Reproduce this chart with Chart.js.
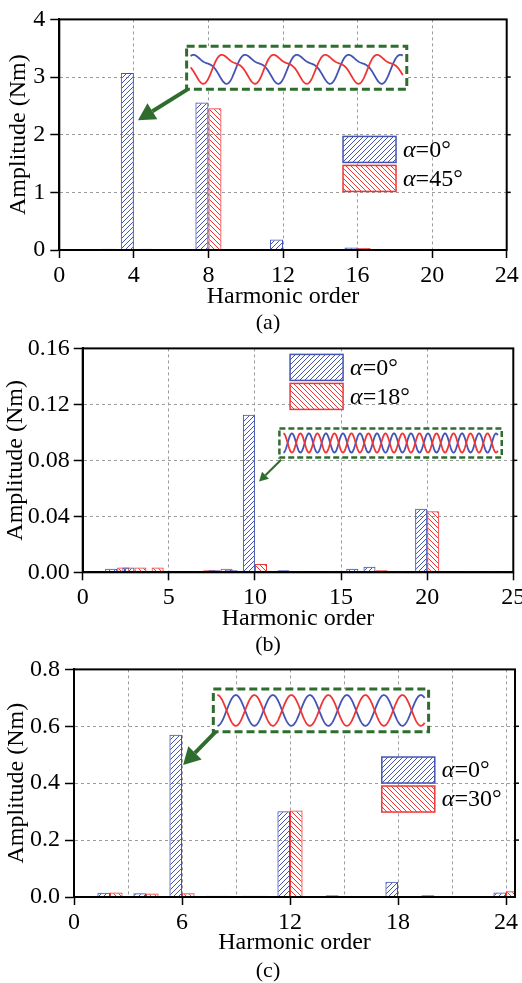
<!DOCTYPE html>
<html>
<head>
<meta charset="utf-8">
<script src="https://cdn.jsdelivr.net/npm/chart.js@4"></script>
<style>
  html, body { margin: 0; padding: 0; background: #fff; width: 522px; height: 983px; overflow: hidden; }
  canvas { position: absolute; left: 0; }
  .cap { position: absolute; font: 22px "Liberation Serif", serif; color: #000; transform: translate(-50%, -50%); white-space: nowrap; }
</style>
</head>
<body>
<canvas id="chartA" width="540" height="313" style="top:0px"></canvas>
<canvas id="chartB" width="540" height="305" style="top:330px"></canvas>
<canvas id="chartC" width="540" height="309" style="top:650px"></canvas>
<div class="cap" style="left:268px;top:322px">(a)</div>
<div class="cap" style="left:268px;top:644px">(b)</div>
<div class="cap" style="left:268px;top:970px">(c)</div>
<script>
// ---------------- data ----------------
// (a)
const harmonicsA = [1, 2, 3, 4, 5, 6, 7, 8, 9, 10, 11, 12, 13, 14, 15, 16, 17, 18, 19, 20, 21, 22, 23, 24];
const ampA0  = [0.005, 0.005, 0.02, 3.07, 0.02, 0.01, 0.005, 2.56, 0.005, 0.005, 0.01, 0.18, 0.005, 0.005, 0.005, 0.045, 0, 0, 0, 0, 0, 0, 0, 0];
const ampA45 = [0.005, 0.01, 0.01, 0.01, 0.015, 0.015, 0.005, 2.46, 0.005, 0.005, 0.005, 0.01, 0.01, 0.005, 0.005, 0.035, 0, 0, 0, 0, 0, 0, 0, 0];
const xTicksA = [0, 4, 8, 12, 16, 20, 24];
const yTicksA = [0, 1, 2, 3, 4];

// (b)
const harmonicsB = [1, 2, 3, 4, 5, 6, 7, 8, 9, 10, 11, 12, 13, 14, 15, 16, 17, 18, 19, 20, 21, 22, 23, 24, 25];
const ampB0  = [0.0005, 0.0025, 0.0035, 0.001, 0.0003, 0.0005, 0.0005, 0.0015, 0.0015, 0.1125, 0.0005, 0.0015, 0.0008, 0.0003, 0.0005, 0.0025, 0.004, 0.0008, 0.0008, 0.0455, 0.0003, 0.0003, 0.0008, 0.0008, 0.0008];
const ampB18 = [0.0003, 0.0035, 0.0035, 0.0035, 0.0003, 0.0005, 0.0015, 0.0025, 0.0008, 0.006, 0.0008, 0.0005, 0.0005, 0.0008, 0.0005, 0.0008, 0.0015, 0.0008, 0.0005, 0.0437, 0.0003, 0.0003, 0.0005, 0.0005, 0];
const xTicksB = [0, 5, 10, 15, 20, 25];
const yTicksB = [0, 0.04, 0.08, 0.12, 0.16];

// (c)
const harmonicsC = [1, 2, 3, 4, 5, 6, 7, 8, 9, 10, 11, 12, 13, 14, 15, 16, 17, 18, 19, 20, 21, 22, 23, 24];
const ampC0  = [0, 0.015, 0, 0.013, 0, 0.57, 0, 0.004, 0, 0.004, 0, 0.301, 0, 0.002, 0, 0.001, 0, 0.054, 0, 0.006, 0, 0, 0, 0.016];
const ampC30 = [0, 0.016, 0, 0.012, 0, 0.013, 0, 0.004, 0, 0.004, 0, 0.304, 0, 0.006, 0, 0.002, 0, 0, 0, 0.002, 0, 0, 0, 0.02];
const xGridC  = [0, 3, 6, 9, 12, 15, 18, 21, 24];
const xTicksC = [0, 6, 12, 18, 24];
const yTicksC = [0, 0.2, 0.4, 0.6, 0.8];

// ---------------- style ----------------
const FONT = '"Liberation Serif", "Times New Roman", serif';
const BLUE = '#4354b4';
const RED = '#ee3636';
const GREEN = '#2f6d2f';

function hatch(color, dir) {
  const s = 5;
  const c = document.createElement('canvas');
  c.width = c.height = s;
  const g = c.getContext('2d');
  g.strokeStyle = color;
  g.lineWidth = 1;
  g.beginPath();
  if (dir > 0) {
    g.moveTo(-1, s + 1); g.lineTo(s + 1, -1);
    g.moveTo(-1, 1); g.lineTo(1, -1);
    g.moveTo(s - 1, s + 1); g.lineTo(s + 1, s - 1);
  } else {
    g.moveTo(-1, -1); g.lineTo(s + 1, s + 1);
    g.moveTo(s - 1, -1); g.lineTo(s + 1, 1);
    g.moveTo(-1, s - 1); g.lineTo(1, s + 1);
  }
  g.stroke();
  return g.createPattern(c, 'repeat');
}
const blueHatch = hatch(BLUE, 1);
const redHatch = hatch(RED, -1);

// frame, inset with waveforms, arrow and legend
const extras = {
  id: 'extras',
  afterDatasetsDraw(chart) {
    const o = chart.options.plugins.extras;
    const {ctx, chartArea: a, scales: {x, y}} = chart;
    ctx.save();
    // frame
    ctx.strokeStyle = '#000';
    ctx.lineWidth = 2;
    ctx.setLineDash([]);
    ctx.strokeRect(a.left, a.top, a.right - a.left, a.bottom - a.top);
    ctx.lineWidth = 1.5;
    o.yTicks.slice(1, -1).forEach(v => {
      const py = y.getPixelForValue(v);
      ctx.beginPath(); ctx.moveTo(a.right, py); ctx.lineTo(a.right + 4, py); ctx.stroke();
    });

    // inset
    const ins = o.inset;
    const bx0 = x.getPixelForValue(ins.box[0]), bx1 = x.getPixelForValue(ins.box[1]);
    const by0 = y.getPixelForValue(ins.box[3]), by1 = y.getPixelForValue(ins.box[2]);
    ctx.fillStyle = '#fff';
    ctx.fillRect(bx0, by0, bx1 - bx0, by1 - by0);
    const yc = (by0 + by1) / 2, amp = (by1 - by0) / 2 * ins.amp;
    const w0 = bx0 + 4, w1 = bx1 - 4;
    const wave = (phase, color) => {
      let norm = 0;
      for (let i = 0; i <= 400; i++) {
        const th = 2 * Math.PI * i / 400;
        norm = Math.max(norm, Math.abs(Math.sin(th) + ins.h2 * Math.sin(2 * th + ins.h2phase)));
      }
      ctx.beginPath();
      for (let i = 0; i <= 400; i++) {
        const t = i / 400;
        const th = 2 * Math.PI * (ins.cycles * t + phase);
        const v = (Math.sin(th) + ins.h2 * Math.sin(2 * th + ins.h2phase)) / norm;
        const px = w0 + (w1 - w0) * t, py = yc - v * amp;
        if (i === 0) ctx.moveTo(px, py); else ctx.lineTo(px, py);
      }
      ctx.strokeStyle = color;
      ctx.lineWidth = 1.8;
      ctx.stroke();
    };
    wave(ins.phase0, BLUE);
    wave(ins.phase1, RED);
    ctx.setLineDash(ins.dash);
    ctx.lineWidth = ins.boxLw;
    ctx.strokeStyle = GREEN;
    ctx.strokeRect(bx0, by0, bx1 - bx0, by1 - by0);
    ctx.setLineDash([]);

    // arrow
    const ax0 = x.getPixelForValue(ins.from[0]), ay0 = y.getPixelForValue(ins.from[1]);
    const ax1 = x.getPixelForValue(ins.to[0]), ay1 = y.getPixelForValue(ins.to[1]);
    const ang = Math.atan2(ay1 - ay0, ax1 - ax0);
    const hl = ins.head, hw = ins.head * 0.55;
    const bxh = ax1 - hl * Math.cos(ang), byh = ay1 - hl * Math.sin(ang);
    ctx.strokeStyle = GREEN;
    ctx.fillStyle = GREEN;
    ctx.lineWidth = ins.arrowLw;
    ctx.beginPath(); ctx.moveTo(ax0, ay0); ctx.lineTo(bxh, byh); ctx.stroke();
    ctx.beginPath();
    ctx.moveTo(ax1, ay1);
    ctx.lineTo(bxh + hw * Math.sin(ang), byh - hw * Math.cos(ang));
    ctx.lineTo(bxh - hw * Math.sin(ang), byh + hw * Math.cos(ang));
    ctx.closePath();
    ctx.fill();

    // legend
    const lx = x.getPixelForValue(o.legend[0]);
    let ly = y.getPixelForValue(o.legend[1]);
    chart.data.datasets.forEach(ds => {
      ctx.fillStyle = '#fff';
      ctx.fillRect(lx, ly, 53, 26);
      ctx.fillStyle = ds.backgroundColor;
      ctx.fillRect(lx, ly, 53, 26);
      ctx.strokeStyle = ds.borderColor;
      ctx.lineWidth = 1.5;
      ctx.strokeRect(lx, ly, 53, 26);
      ctx.fillStyle = '#000';
      ctx.textBaseline = 'middle';
      ctx.textAlign = 'left';
      ctx.font = 'italic 24px ' + FONT;
      const tx = lx + 60;
      ctx.fillText(ds.label[0], tx, ly + 14);
      const wA = ctx.measureText(ds.label[0]).width;
      ctx.font = '24px ' + FONT;
      ctx.fillText(ds.label.slice(1), tx + wA, ly + 14);
      ly += 29;
    });
    ctx.restore();
  }
};

function build(id, o) {
  const labelSet = new Set(o.xLabels);
  return new Chart(document.getElementById(id), {
    type: 'bar',
    data: {
      datasets: [
        { label: o.names[0], data: o.h.map((h, i) => ({x: h, y: o.s0[i]})),
          backgroundColor: blueHatch, borderColor: BLUE, borderWidth: 1,
          categoryPercentage: 1.4, barPercentage: 1 },
        { label: o.names[1], data: o.h.map((h, i) => ({x: h, y: o.s1[i]})),
          backgroundColor: redHatch, borderColor: RED, borderWidth: 1,
          categoryPercentage: 1.4, barPercentage: 1 }
      ]
    },
    options: {
      responsive: false,
      animation: false,
      layout: { padding: { top: o.padTop, right: o.padRight, left: 0, bottom: 0 } },
      plugins: { legend: { display: false }, tooltip: { enabled: false }, extras: o },
      scales: {
        x: {
          type: 'linear', min: 0, max: o.xMax, offset: false,
          afterBuildTicks: s => { s.ticks = o.xGrid.map(v => ({value: v})); },
          afterFit: s => { s.height = o.xAxisH; },
          ticks: { color: '#000', font: { family: FONT, size: 24 }, padding: 3, maxRotation: 0, autoSkip: false,
                   callback: v => labelSet.has(v) ? String(v) : '' },
          grid: { color: '#9c9c9c', lineWidth: 1, tickLength: 8, tickWidth: 1.5, offset: false,
                  tickColor: c => labelSet.has(c.tick.value) ? '#000' : 'rgba(0,0,0,0)' },
          border: { color: '#000', width: 2, dash: [3, 3] },
          title: { display: true, text: 'Harmonic order', color: '#000', font: { family: FONT, size: 24 },
                   padding: { top: 0, bottom: 2 } }
        },
        y: {
          min: 0, max: o.yTicks[o.yTicks.length - 1],
          afterBuildTicks: s => { s.ticks = o.yTicks.map(v => ({value: v})); },
          afterFit: s => { s.width = o.yAxisW; },
          ticks: { color: '#000', font: { family: FONT, size: 24 }, padding: o.yPad,
                   callback: v => v.toFixed(o.dec) },
          grid: { color: '#9c9c9c', lineWidth: 1, tickLength: 9, tickWidth: 1.5, tickColor: '#000' },
          border: { color: '#000', width: 2, dash: [3, 3] },
          title: { display: true, text: 'Amplitude (Nm)', color: '#000', font: { family: FONT, size: 24 },
                   padding: { top: o.yTitlePad, bottom: 0 } }
        }
      }
    },
    plugins: [extras]
  });
}

build('chartA', {
  h: harmonicsA, s0: ampA0, s1: ampA45, names: ['α=0°', 'α=45°'],
  xMax: 24, xGrid: xTicksA, xLabels: xTicksA, yTicks: yTicksA, dec: 0,
  padTop: 15, padRight: 33.3, xAxisH: 63, yAxisW: 59.3, yPad: 5, yTitlePad: 4,
  legend: [15.22, 1.97],
  inset: { box: [6.83, 18.64, 2.79, 3.535], from: [6.9, 2.79], to: [4.22, 2.25],
           cycles: 4.1, phase0: 0.1, phase1: 0.55, h2: 0.35, h2phase: 0.6, amp: 0.75,
           dash: [8, 4], boxLw: 3, head: 17, arrowLw: 4 }
});

build('chartB', {
  h: harmonicsB, s0: ampB0, s1: ampB18, names: ['α=0°', 'α=18°'],
  xMax: 25, xGrid: xTicksB, xLabels: xTicksB, yTicks: yTicksB, dec: 2,
  padTop: 16.7, padRight: 26.7, xAxisH: 62.7, yAxisW: 82.7, yPad: 4, yTitlePad: 1.6,
  legend: [12.04, 0.1557],
  inset: { box: [11.42, 24.33, 0.082, 0.1028], from: [11.52, 0.0804], to: [10.24, 0.0648],
           cycles: 12.6, phase0: 0.75, phase1: 0.25, h2: 0, h2phase: 0, amp: 0.66,
           dash: [6, 3], boxLw: 2.5, head: 9, arrowLw: 2 }
});

build('chartC', {
  h: harmonicsC, s0: ampC0, s1: ampC30, names: ['α=0°', 'α=30°'],
  xMax: 24.5, xGrid: xGridC, xLabels: xTicksC, yTicks: yTicksC, dec: 1,
  padTop: 16, padRight: 25, xAxisH: 62, yAxisW: 74, yPad: 5, yTitlePad: 2.3,
  legend: [17.1, 0.492],
  inset: { box: [7.74, 19.7, 0.5808, 0.7307], from: [7.89, 0.582], to: [6.06, 0.464],
           cycles: 5.6, phase0: 0.75, phase1: 0.25, h2: 0, h2phase: 0, amp: 0.72,
           dash: [8, 4], boxLw: 3, head: 17, arrowLw: 4 }
});
</script>
</body>
</html>
